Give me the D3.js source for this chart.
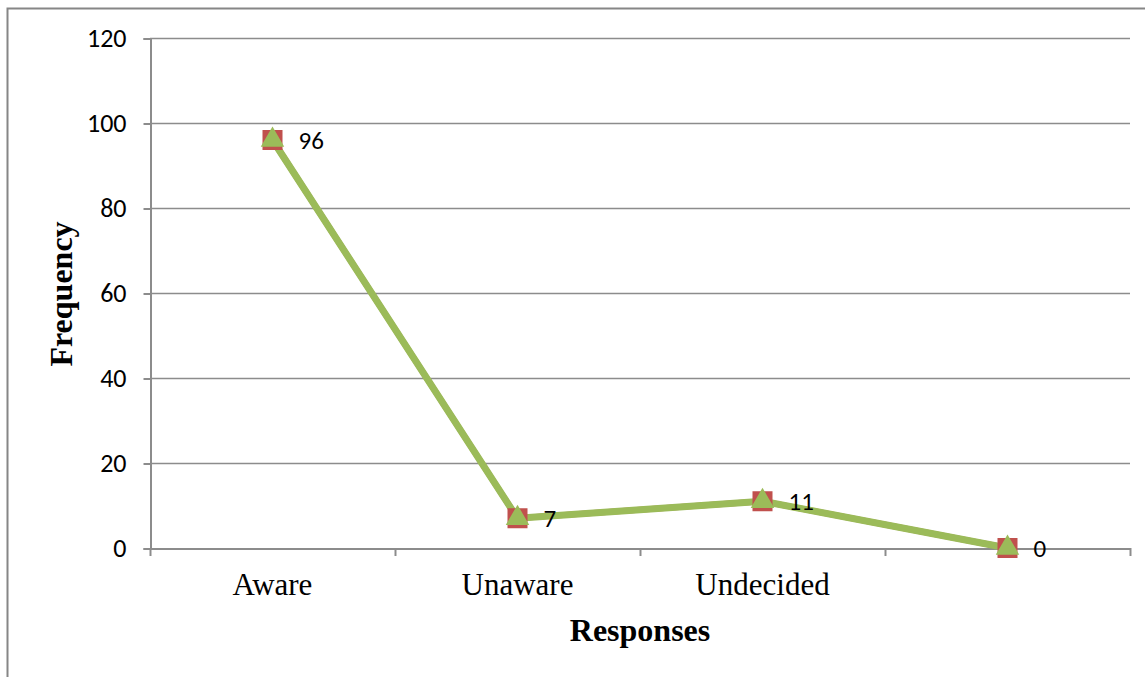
<!DOCTYPE html>
<html>
<head>
<meta charset="utf-8">
<script src="https://cdn.jsdelivr.net/npm/d3@7"></script>
<style>
  body { margin: 0; background: #fff; }
</style>
</head>
<body>
<svg id="chart"></svg>
<script>
// Chart data
const categories = ["Aware", "Unaware", "Undecided", ""];
const frequency = [96, 7, 11, 0];
const yTicks = [0, 20, 40, 60, 80, 100, 120];

const width = 1145;
const height = 677;
const labelFont = "Carlito, Calibri, 'Open Sans', 'Liberation Sans', sans-serif";
const serifFont = "'Times New Roman', 'Liberation Serif', serif";

const svg = d3.select("#chart")
  .attr("width", width)
  .attr("height", height)
  .style("display", "block");

// outer chart frame (runs off the right/bottom of the picture)
svg.append("rect")
  .attr("x", 7.5).attr("y", 8.5)
  .attr("width", 1160).attr("height", 700)
  .attr("fill", "none")
  .attr("stroke", "#868686")
  .attr("stroke-width", 2);

const x = d3.scaleBand().domain(categories).range([150, 1130]).padding(0);
const y = d3.scaleLinear().domain([0, 120]).range([548, 38]);

// gridlines
svg.append("g")
  .selectAll("line")
  .data(yTicks.filter((d) => d > 0))
  .join("line")
  .attr("x1", 150).attr("x2", 1130)
  .attr("y1", (d) => y(d) + 0.5).attr("y2", (d) => y(d) + 0.5)
  .attr("stroke", "#8c8c8c")
  .attr("stroke-width", 1.5);

// y axis
const yAxis = svg.append("g")
  .attr("transform", "translate(150.5,0.5)")
  .call(d3.axisLeft(y).tickValues(yTicks).tickSize(7).tickPadding(17));
yAxis.select(".domain").attr("stroke", "#8c8c8c").attr("stroke-width", 2);
yAxis.selectAll(".tick line").attr("stroke", "#8c8c8c").attr("stroke-width", 2);
yAxis.selectAll(".tick text")
  .attr("fill", "#000")
  .style("font-family", labelFont)
  .style("font-size", "26px");

// x axis
const xAxis = svg.append("g")
  .attr("transform", "translate(0,548.5)")
  .call(d3.axisBottom(x).tickSize(0).tickPadding(24));
xAxis.select(".domain").attr("stroke", "#8c8c8c").attr("stroke-width", 2);
xAxis.selectAll(".tick text")
  .attr("fill", "#000")
  .style("font-family", serifFont)
  .style("font-size", "31px");

// category boundary ticks
svg.append("g")
  .selectAll("line")
  .data(categories.map((c) => x(c)).concat([x.range()[1]]))
  .join("line")
  .attr("x1", (d) => d + 0.5).attr("x2", (d) => d + 0.5)
  .attr("y1", 548).attr("y2", 556)
  .attr("stroke", "#8c8c8c")
  .attr("stroke-width", 2);

const cx = (d, i) => x(categories[i]) + x.bandwidth() / 2;
const line = d3.line().x(cx).y((d) => y(d));

// series 1 (red squares) line hidden under series 2
svg.append("path")
  .datum(frequency)
  .attr("d", line)
  .attr("fill", "none")
  .attr("stroke", "#C0504D")
  .attr("stroke-width", 6);

svg.append("path")
  .datum(frequency)
  .attr("d", line)
  .attr("fill", "none")
  .attr("stroke", "#9BBB59")
  .attr("stroke-width", 7)
  .attr("stroke-linejoin", "round");

// red square markers
svg.append("g")
  .selectAll("rect")
  .data(frequency)
  .join("rect")
  .attr("x", (d, i) => cx(d, i) - 10)
  .attr("y", (d) => y(d) - 10)
  .attr("width", 20).attr("height", 20)
  .attr("fill", "#C0504D");

// green triangle markers
const tri = d3.symbol().type(d3.symbolTriangle).size(240);
svg.append("g")
  .selectAll("path")
  .data(frequency)
  .join("path")
  .attr("transform", (d, i) => `translate(${cx(d, i)},${y(d)})`)
  .attr("d", tri)
  .attr("fill", "#9BBB59");

// data labels
svg.append("g")
  .selectAll("text")
  .data(frequency)
  .join("text")
  .attr("x", (d, i) => cx(d, i) + 26)
  .attr("y", (d) => y(d) + 8.5)
  .style("font-family", labelFont)
  .style("font-size", "25px")
  .attr("fill", "#000")
  .text((d) => d);

// axis titles
svg.append("text")
  .attr("transform", "translate(72,294) rotate(-90)")
  .attr("text-anchor", "middle")
  .style("font-family", serifFont)
  .style("font-size", "32px")
  .style("font-weight", "bold")
  .text("Frequency");

svg.append("text")
  .attr("x", 640).attr("y", 641)
  .attr("text-anchor", "middle")
  .style("font-family", serifFont)
  .style("font-size", "32px")
  .style("font-weight", "bold")
  .text("Responses");
</script>
</body>
</html>
